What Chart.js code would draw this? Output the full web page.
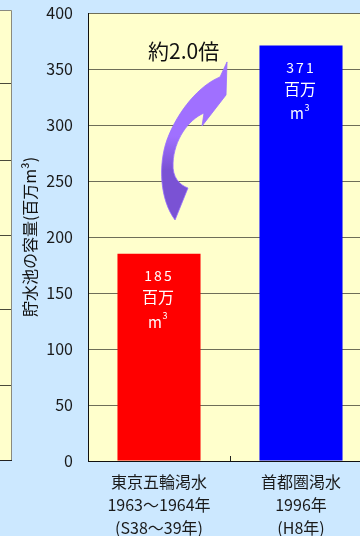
<!DOCTYPE html>
<html>
<head>
<meta charset="utf-8">
<script src="https://cdn.jsdelivr.net/npm/chart.js@4.4.1/dist/chart.umd.min.js"></script>
<style>
  html, body { margin: 0; padding: 0; background: #CCE8FF; overflow: hidden; width: 360px; height: 536px; }
  #wrap { position: relative; width: 372px; height: 536px; }
</style>
</head>
<body>
<div id="wrap"><canvas id="chart"></canvas></div>
<script>
// Reservoir capacity during two Tokyo-area droughts (million m³)
const categories = [
  ['東京五輪渇水', '1963〜1964年', '(S38〜39年)'],
  ['首都圏渇水', '1996年', '(H8年)']
];
const capacities = [185, 371];
const barColors = ['#FF0000', '#0000FF'];
const yTickValues = [0, 50, 100, 150, 200, 250, 300, 350, 400];
const unitText = '百万';
const ratioText = '約2.0倍';
const axisTitle = '貯水池の容量(百万m³)';

const FONT = "'Noto Sans CJK JP', 'Noto Sans', sans-serif";

// Panel backgrounds: the plot area and the neighbouring panel's edge on the left
const backdrop = {
  id: 'backdrop',
  beforeDraw(chart) {
    const { ctx, chartArea: a } = chart;
    ctx.save();
    // neighbouring panel edge
    ctx.fillStyle = '#FFFFCC';
    ctx.fillRect(0, 10, 12, 450);
    ctx.strokeStyle = '#4a4a3a';
    ctx.lineWidth = 1;
    [83, 160, 235, 309, 385].forEach(y => {
      ctx.beginPath(); ctx.moveTo(0, y + 0.5); ctx.lineTo(12, y + 0.5); ctx.stroke();
    });
    ctx.strokeStyle = '#8a8a80';
    ctx.beginPath(); ctx.moveTo(0, 10.5); ctx.lineTo(11.5, 10.5); ctx.lineTo(11.5, 460); ctx.stroke();
    ctx.strokeStyle = '#222';
    ctx.beginPath(); ctx.moveTo(0, 460.5); ctx.lineTo(12, 460.5); ctx.stroke();
    // plot area
    ctx.fillStyle = '#FFFFCC';
    ctx.fillRect(a.left, a.top, a.right - a.left, a.bottom - a.top);
    ctx.restore();
  }
};

// Curved arrow and ratio note between the two bars
const ratioArrow = {
  id: 'ratioArrow',
  beforeDatasetsDraw(chart) {
    const { ctx, scales: { x, y } } = chart;
    const P = (i, v) => [x.getPixelForValue(i), y.getPixelForValue(v)];
    ctx.save();
    const g = ctx.createLinearGradient(0, P(0, 290)[1], 0, P(0, 260)[1]);
    g.addColorStop(0, '#A070FF');
    g.addColorStop(1, '#7A52D4');
    ctx.fillStyle = g;
    ctx.beginPath();
    ctx.moveTo(...P(0.479, 356.3));           // tip
    ctx.lineTo(...P(0.472, 326.8));           // right shoulder
    ctx.lineTo(...P(0.303, 299.1));           // barb
    ctx.lineTo(...P(0.317, 310.7));           // notch
    ctx.bezierCurveTo(...P(0.204, 304.5), ...P(0.106, 286.6), ...P(0.099, 266.1));
    ctx.bezierCurveTo(...P(0.092, 252.7), ...P(0.148, 246.4), ...P(0.204, 243.75));
    ctx.lineTo(...P(0.113, 215.2));           // tail
    ctx.bezierCurveTo(...P(0.007, 233), ...P(-0.007, 264.3), ...P(0.056, 286.6));
    ctx.bezierCurveTo(...P(0.134, 313.4), ...P(0.289, 335.7), ...P(0.430, 342.9));
    ctx.closePath();
    ctx.fill();
    ctx.strokeStyle = 'rgba(150,110,255,0.8)';
    ctx.lineWidth = 1;
    ctx.stroke();

    ctx.fillStyle = '#111';
    ctx.font = `21px ${FONT}`;
    ctx.textAlign = 'center';
    ctx.textBaseline = 'middle';
    ctx.fillText(ratioText, ...P(0.173, 366.1));
    ctx.restore();
  }
};

// White value / unit labels inside each bar, plus the category divider tick
const barLabels = {
  id: 'barLabels',
  afterDatasetsDraw(chart) {
    const { ctx, scales: { x, y } } = chart;
    const meta = chart.getDatasetMeta(0);
    ctx.save();
    ctx.fillStyle = '#FFFFFF';
    ctx.textBaseline = 'middle';
    meta.data.forEach((bar, i) => {
      const cx = bar.x - 1;
      const top = bar.y;
      // value, spaced digits
      ctx.font = `14px ${FONT}`;
      const digits = String(capacities[i]).split('');
      const gap = 2;
      const widths = digits.map(d => ctx.measureText(d).width);
      const total = widths.reduce((s, w) => s + w, 0) + gap * (digits.length - 1);
      let px = cx - total / 2;
      ctx.textAlign = 'left';
      digits.forEach((d, k) => { ctx.fillText(d, px, top + 22); px += widths[k] + gap; });
      // unit
      ctx.textAlign = 'center';
      ctx.font = `16px ${FONT}`;
      ctx.fillText(unitText, cx, top + 43);
      // m with superscript 3
      ctx.font = `15px ${FONT}`;
      ctx.fillText('m', cx - 3, top + 68);
      ctx.font = `9px ${FONT}`;
      ctx.fillText('3', cx + 7, top + 62);
    });
    // divider tick between categories
    const bx = Math.round(x.getPixelForValue(0.5)) + 0.5;
    const by = y.getPixelForValue(0);
    ctx.strokeStyle = '#222';
    ctx.lineWidth = 1;
    ctx.beginPath(); ctx.moveTo(bx, by - 5); ctx.lineTo(bx, by); ctx.stroke();
    ctx.restore();
  }
};

new Chart(document.getElementById('chart'), {
  type: 'bar',
  data: {
    labels: categories,
    datasets: [{
      data: capacities,
      backgroundColor: barColors,
      borderWidth: 0,
      categoryPercentage: 1,
      barPercentage: 0.585
    }]
  },
  options: {
    responsive: true,
    maintainAspectRatio: false,
    animation: false,
    layout: { padding: { top: 13, left: 0, right: 0, bottom: 0 } },
    plugins: { legend: { display: false }, tooltip: { enabled: false } },
    scales: {
      x: {
        grid: { display: false, drawTicks: false },
        border: { display: true, color: '#111', width: 1 },
        ticks: {
          color: '#1a1a1a',
          font: { family: FONT, size: 16, lineHeight: 1.44 },
          padding: 9,
          maxRotation: 0,
          autoSkip: false
        },
        afterFit(scale) { scale.height = 75; }
      },
      y: {
        min: 0,
        max: 400,
        afterBuildTicks(scale) { scale.ticks = yTickValues.map(v => ({ value: v })); },
        // invisible tick marks keep the labels clear of the axis line
        grid: { color: '#6e6e58', lineWidth: 1, drawTicks: true, tickLength: 15, tickColor: 'rgba(0,0,0,0)' },
        border: { display: true, color: '#111', width: 1 },
        ticks: {
          color: '#1a1a1a',
          font: { family: FONT, size: 16 },
          padding: 0
        },
        title: {
          display: true,
          text: axisTitle,
          color: '#111',
          font: { family: FONT, size: 16, lineHeight: 1.2 },
          padding: { top: 20, bottom: 0 }
        },
        afterFit(scale) { scale.width = 88; }
      }
    }
  },
  plugins: [backdrop, ratioArrow, barLabels]
});
</script>
</body>
</html>
